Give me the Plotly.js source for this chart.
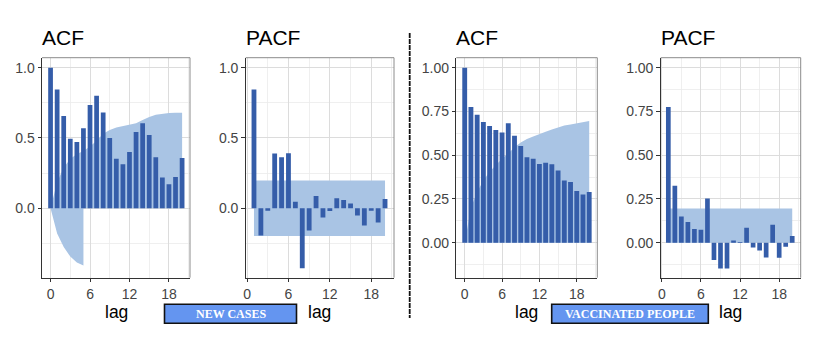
<!DOCTYPE html>
<html>
<head>
<meta charset="utf-8">
<script src="https://cdn.plot.ly/plotly-3.0.1.min.js"></script>
<style>html,body{margin:0;padding:0;background:#fff;}#chart{width:822px;height:340px;}</style>
</head>
<body>
<div id="chart"></div>
<script>
// ---- data ----
const acfLags = [0,1,2,3,4,5,6,7,8,9,10,11,12,13,14,15,16,17,18,19,20];
const pacfLags = [1,2,3,4,5,6,7,8,9,10,11,12,13,14,15,16,17,18,19,20];

const newCasesAcf = [1.0,0.844,0.656,0.495,0.472,0.569,0.735,0.801,0.682,0.5,0.353,0.313,0.4,0.543,0.604,0.521,0.363,0.218,0.171,0.223,0.358];
const newCasesAcfCiUpper = [0,0.185,0.29,0.35,0.386,0.408,0.44,0.48,0.53,0.556,0.575,0.586,0.593,0.605,0.627,0.65,0.665,0.673,0.677,0.679,0.68];
const newCasesAcfCiLowerLags = [0,1,2,3,4,5];
const newCasesAcfCiLower = [0,-0.18,-0.275,-0.344,-0.386,-0.408];
const newCasesPacf = [0.844,-0.194,-0.017,0.389,0.363,0.391,0.047,-0.427,-0.159,0.088,-0.066,-0.019,0.071,0.059,0.033,-0.052,-0.123,-0.017,-0.102,0.066];
const newCasesPacfCi = [0.197,0.197,-0.197,-0.197];
const newCasesPacfCiLags = [1,20,20,1];

const vacAcf = [1.0,0.775,0.731,0.69,0.667,0.644,0.63,0.682,0.611,0.552,0.488,0.48,0.45,0.457,0.448,0.413,0.356,0.347,0.295,0.276,0.29];
const vacAcfCiUpper = [0,0.2,0.29,0.355,0.405,0.445,0.48,0.51,0.546,0.572,0.592,0.607,0.622,0.634,0.647,0.659,0.669,0.676,0.683,0.688,0.695];
const vacPacf = [0.775,0.326,0.149,0.118,0.078,0.074,0.253,-0.099,-0.147,-0.147,0.013,0.004,0.086,-0.027,-0.044,-0.084,0.103,-0.086,-0.023,0.038];
const vacPacfCi = [0.196,0.196,0,0];
const vacPacfCiLags = [1,20,20,1];

const xTicks = [0,6,12,18];
const panelTitles = ['ACF','PACF','ACF','PACF'];
const xTitle = 'lag';
const groupLabels = ['NEW CASES','VACCINATED PEOPLE'];

// ---- geometry helpers ----
const W = 822, H = 340;
const px = x => x / W;
const py = y => 1 - y / H;

const BAR = '#355da9';
const RIB = '#a9c4e4';
const FONT = 'Liberation Sans, Arial, sans-serif';

const panels = [
  {l:42,   r:190,   xr:[-1.3,21.2]},
  {l:245.7,r:394,   xr:[-0.2,21.3]},
  {l:456.3,r:597.3, xr:[-1.35,21.3]},
  {l:660.7,r:800.7, xr:[-0.17,21.3]}
];
const panelTop = 57.7, panelBot = 277.7;
const yr1 = [-0.494,1.071], yr2 = [-0.2,1.057];

// ribbons
const rib1x = acfLags.concat([20,5]).concat(newCasesAcfCiLowerLags.slice().reverse());
const rib1y = newCasesAcfCiUpper.concat([0,0]).concat(newCasesAcfCiLower.slice().reverse());
const rib3x = acfLags.concat([20,0]);
const rib3y = vacAcfCiUpper.concat([0,0]);

function ribbon(x, y, ax) {
  return {type:'scatter', mode:'lines', x:x, y:y, fill:'toself', fillcolor:RIB,
          line:{width:0, color:RIB}, xaxis:'x'+ax, yaxis:'y'+ax, hoverinfo:'skip', showlegend:false};
}
function bars(x, y, ax, w) {
  return {type:'bar', x:x, y:y, width:w, marker:{color:BAR, line:{width:0}},
          xaxis:'x'+ax, yaxis:'y'+ax, showlegend:false, hoverinfo:'skip'};
}

const data = [
  ribbon(rib1x, rib1y, ''),
  ribbon(newCasesPacfCiLags, newCasesPacfCi, '2'),
  ribbon(rib3x, rib3y, '3'),
  ribbon(vacPacfCiLags, vacPacfCi, '4'),
  bars(acfLags, newCasesAcf, '5', 0.72),
  bars(pacfLags, newCasesPacf, '6', 0.7),
  bars(acfLags, vacAcf, '7', 0.78),
  bars(pacfLags, vacPacf, '8', 0.72)
];

const GRID = '#dcdcdc', MINOR = '#ebebeb';
const TICKFONT = {family:FONT, size:14, color:'#444'};
function xax(p, anchor) {
  return {domain:[px(p.l), px(p.r)], range:p.xr, anchor:anchor,
    tickmode:'array', tickvals:xTicks, ticks:'outside', ticklen:3.5, tickwidth:1, tickcolor:'#333',
    tickfont:TICKFONT,
    showline:true, linecolor:'#333', linewidth:1, zeroline:false,
    showgrid:true, gridcolor:GRID, gridwidth:1,
    minor:{showgrid:true, gridcolor:MINOR, gridwidth:0.8, tickmode:'array', tickvals:[3,9,15,21]},
    fixedrange:true};
}
function yax(range, anchor, fmt, tv, mv) {
  return {domain:[py(panelBot), py(panelTop)], range:range, anchor:anchor,
    tickmode:'array', tickvals:tv, tickformat:fmt, ticks:'outside', ticklen:3.5, tickwidth:1, tickcolor:'#333',
    tickfont:TICKFONT,
    showline:true, linecolor:'#333', linewidth:1, zeroline:false,
    showgrid:true, gridcolor:GRID, gridwidth:1,
    minor:{showgrid:true, gridcolor:MINOR, gridwidth:0.8, tickmode:'array', tickvals:mv},
    fixedrange:true};
}
function ovx(p, base, anchor) { return {domain:[px(p.l), px(p.r)], range:p.xr, overlaying:base, anchor:anchor, visible:false, fixedrange:true}; }
function ovy(range, base, anchor) { return {domain:[py(panelBot), py(panelTop)], range:range, overlaying:base, anchor:anchor, visible:false, fixedrange:true}; }

const tv1 = [0,0.5,1], mv1 = [-0.25,0.25,0.75];
const tv2 = [0,0.25,0.5,0.75,1], mv2 = [-0.125,0.125,0.375,0.625,0.875];

const shapes = [];
panels.forEach(p => {
  shapes.push({type:'line', xref:'paper', yref:'paper', x0:px(p.l), x1:px(p.r), y0:py(panelTop), y1:py(panelTop), line:{color:'#8c8c8c', width:1}});
  shapes.push({type:'line', xref:'paper', yref:'paper', x0:px(p.r), x1:px(p.r), y0:py(panelTop), y1:py(panelBot), line:{color:'#8c8c8c', width:1}});
});
// divider
shapes.push({type:'line', xref:'paper', yref:'paper', x0:px(409.7), x1:px(409.7), y0:py(33), y1:py(318), line:{color:'#111', width:1.8, dash:'5px,1px'}});
// label boxes
shapes.push({type:'rect', xref:'paper', yref:'paper', x0:px(164.5), x1:px(296.5), y0:py(323.3), y1:py(304.3), fillcolor:'#6495f0', line:{color:'#111', width:1.6}});
shapes.push({type:'rect', xref:'paper', yref:'paper', x0:px(551.7), x1:px(708.3), y0:py(323.3), y1:py(304.3), fillcolor:'#6495f0', line:{color:'#111', width:1.6}});

const annotations = [];
panels.forEach((p, i) => {
  annotations.push({xref:'paper', yref:'paper', x:px(p.l - 2), y:py(37.5), xanchor:'left', yanchor:'middle', showarrow:false,
    text:panelTitles[i], font:{family:FONT, size:21, color:'#000'}});
  annotations.push({xref:'paper', yref:'paper', x:px((p.l + p.r) / 2), y:py(312), xanchor:'center', yanchor:'middle', showarrow:false,
    text:xTitle, font:{family:FONT, size:17.5, color:'#000'}});
});
annotations.push({xref:'paper', yref:'paper', x:px(230.5), y:py(314), xanchor:'center', yanchor:'middle', showarrow:false,
  text:'<b>'+groupLabels[0]+'</b>', font:{family:'Liberation Serif, Times New Roman, serif', size:12, color:'#fff'}});
annotations.push({xref:'paper', yref:'paper', x:px(630), y:py(314), xanchor:'center', yanchor:'middle', showarrow:false,
  text:'<b>'+groupLabels[1]+'</b>', font:{family:'Liberation Serif, Times New Roman, serif', size:12, color:'#fff'}});

const layout = {
  width:W, height:H, margin:{l:0, r:0, t:0, b:0}, paper_bgcolor:'#fff', plot_bgcolor:'#fff',
  showlegend:false, barmode:'overlay',
  xaxis: xax(panels[0], 'y'),  yaxis: yax(yr1, 'x', '.1f', tv1, mv1),
  xaxis2: xax(panels[1], 'y2'), yaxis2: yax(yr1, 'x2', '.1f', tv1, mv1),
  xaxis3: xax(panels[2], 'y3'), yaxis3: yax(yr2, 'x3', '.2f', tv2, mv2),
  xaxis4: xax(panels[3], 'y4'), yaxis4: yax(yr2, 'x4', '.2f', tv2, mv2),
  xaxis5: ovx(panels[0], 'x', 'y5'),  yaxis5: ovy(yr1, 'y', 'x5'),
  xaxis6: ovx(panels[1], 'x2', 'y6'), yaxis6: ovy(yr1, 'y2', 'x6'),
  xaxis7: ovx(panels[2], 'x3', 'y7'), yaxis7: ovy(yr2, 'y3', 'x7'),
  xaxis8: ovx(panels[3], 'x4', 'y8'), yaxis8: ovy(yr2, 'y4', 'x8'),
  shapes: shapes, annotations: annotations
};

Plotly.newPlot('chart', data, layout, {staticPlot:true, displayModeBar:false});
</script>
</body>
</html>
